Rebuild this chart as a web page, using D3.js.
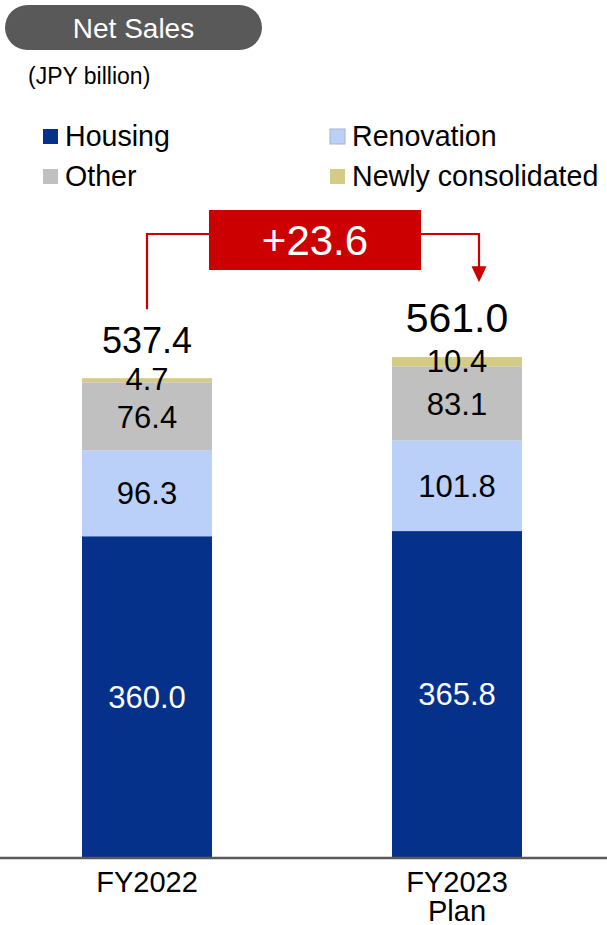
<!DOCTYPE html>
<html><head><meta charset="utf-8">
<script src="https://cdn.jsdelivr.net/npm/d3@7"></script>
<style>
body{margin:0;background:#fff}
svg{display:block;font-family:"Liberation Sans",Arial,Helvetica,sans-serif}
</style>
</head><body>
<svg id="chart" width="607" height="925"></svg>
<script>
// Net sales by segment, JPY billion
const categories = ["FY2022", "FY2023|Plan"];
const seriesNames = ["Housing", "Renovation", "Other", "Newly consolidated"];
const housing = [360.0, 365.8];
const renovation = [96.3, 101.8];
const other = [76.4, 83.1];
const newlyConsolidated = [4.7, 10.4];
const totals = [537.4, 561.0];
const changeLabel = "+23.6";
const seriesColors = ["#05318b", "#bad0f9", "#c0c0c0", "#d4cc86"];
const labelColors = ["#ffffff", "#000000", "#000000", "#000000"];

const svg = d3.select("#chart");
const W = 607, baseY = 857;

const rows = categories.map((c, i) => ({
  cat: c,
  Housing: housing[i],
  Renovation: renovation[i],
  Other: other[i],
  "Newly consolidated": newlyConsolidated[i]
}));

const x = d3.scaleBand().domain(categories).range([0, 604])
  .paddingInner(0.5806).paddingOuter(0.2645);
const y = d3.scaleLinear().domain([0, 600]).range([baseY, baseY - 600 * 0.891]);

const stacked = d3.stack().keys(seriesNames)(rows);

// Title pill
svg.append("rect").attr("x", 5).attr("y", 5).attr("width", 257).attr("height", 45)
  .attr("rx", 22.5).attr("fill", "#595959");
svg.append("text").attr("x", 133.5).attr("y", 37.5).attr("text-anchor", "middle")
  .attr("fill", "#fff").attr("font-size", 28).text("Net Sales");
svg.append("text").attr("x", 28).attr("y", 84).attr("font-size", 23)
  .attr("fill", "#000").text("(JPY billion)");

// Legend
const legendPos = [[43, 129], [330, 129], [43, 169], [330, 169]];
const legendOrder = ["Housing", "Renovation", "Other", "Newly consolidated"];
legendOrder.forEach((name, i) => {
  const [lx, ly] = legendPos[i];
  const k = seriesNames.indexOf(name);
  const g = svg.append("g").attr("transform", `translate(${lx},${ly})`);
  g.append("rect").attr("width", 15).attr("height", 15).attr("fill", seriesColors[k])
    .attr("stroke", k === 1 ? "#a6b4cc" : "none").attr("stroke-width", k === 1 ? 1 : 0);
  g.append("text").attr("x", 22).attr("y", 16.5).attr("font-size", 28.6)
    .attr("fill", "#000").text(name);
});

// Stacked bars
const layers = svg.append("g").selectAll("g").data(stacked).join("g")
  .attr("fill", (d, i) => seriesColors[i]);
layers.selectAll("rect").data(d => d).join("rect")
  .attr("x", d => x(d.data.cat))
  .attr("width", x.bandwidth())
  .attr("y", d => y(d[1]))
  .attr("height", d => y(d[0]) - y(d[1]));

// Segment value labels
stacked.forEach((layer, i) => {
  svg.append("g").selectAll("text").data(layer).join("text")
    .attr("x", d => x(d.data.cat) + x.bandwidth() / 2)
    .attr("y", d => (y(d[0]) + y(d[1])) / 2 + (i === 3 ? -1 : 0))
    .attr("dy", "0.36em")
    .attr("text-anchor", "middle")
    .attr("font-size", 31)
    .attr("fill", labelColors[i])
    .text(d => (d[1] - d[0]).toFixed(1));
});

// Totals
svg.append("g").selectAll("text").data(totals).join("text")
  .attr("x", (d, i) => x(categories[i]) + x.bandwidth() / 2)
  .attr("y", d => y(d) - 25)
  .attr("text-anchor", "middle")
  .attr("font-size", (d, i) => i === 0 ? 36 : 41)
  .attr("fill", "#000")
  .text(d => d.toFixed(1));

// Axis baseline and category labels
svg.append("line").attr("x1", 0).attr("x2", W).attr("y1", baseY + 1).attr("y2", baseY + 1)
  .attr("stroke", "#595959").attr("stroke-width", 2.5);
const xAxis = svg.append("g");
categories.forEach(c => {
  const t = xAxis.append("text")
    .attr("text-anchor", "middle")
    .attr("font-size", 29)
    .attr("fill", "#000");
  c.split("|").forEach((line, j) => {
    t.append("tspan").attr("x", x(c) + x.bandwidth() / 2).attr("y", 892 + j * 29).text(line);
  });
});

// Change bracket between totals
const red = "#cc0000";
const cx0 = x(categories[0]) + x.bandwidth() / 2;
const cx1 = x(categories[1]) + x.bandwidth() / 2 + 22;
const bracketY = 234;
const box = { x: 209, y: 210, w: 212, h: 60 };
const bracket = svg.append("g").attr("fill", "none").attr("stroke", red).attr("stroke-width", 2.2);
bracket.append("path").attr("d", `M${cx0},${y(totals[0]) - 69}V${bracketY}H${box.x}`);
bracket.append("path").attr("d", `M${box.x + box.w},${bracketY}H${cx1}V${y(totals[1]) - 90}`);
svg.append("path")
  .attr("d", `M${cx1 - 7.5},${y(totals[1]) - 91}L${cx1 + 7.5},${y(totals[1]) - 91}L${cx1},${y(totals[1]) - 75}Z`)
  .attr("fill", red);
svg.append("rect").attr("x", box.x).attr("y", box.y).attr("width", box.w).attr("height", box.h)
  .attr("fill", red);
svg.append("text").attr("x", box.x + box.w / 2).attr("y", box.y + box.h / 2)
  .attr("dy", "0.36em").attr("text-anchor", "middle").attr("font-size", 42)
  .attr("fill", "#fff").text(changeLabel);
</script>
</body></html>
